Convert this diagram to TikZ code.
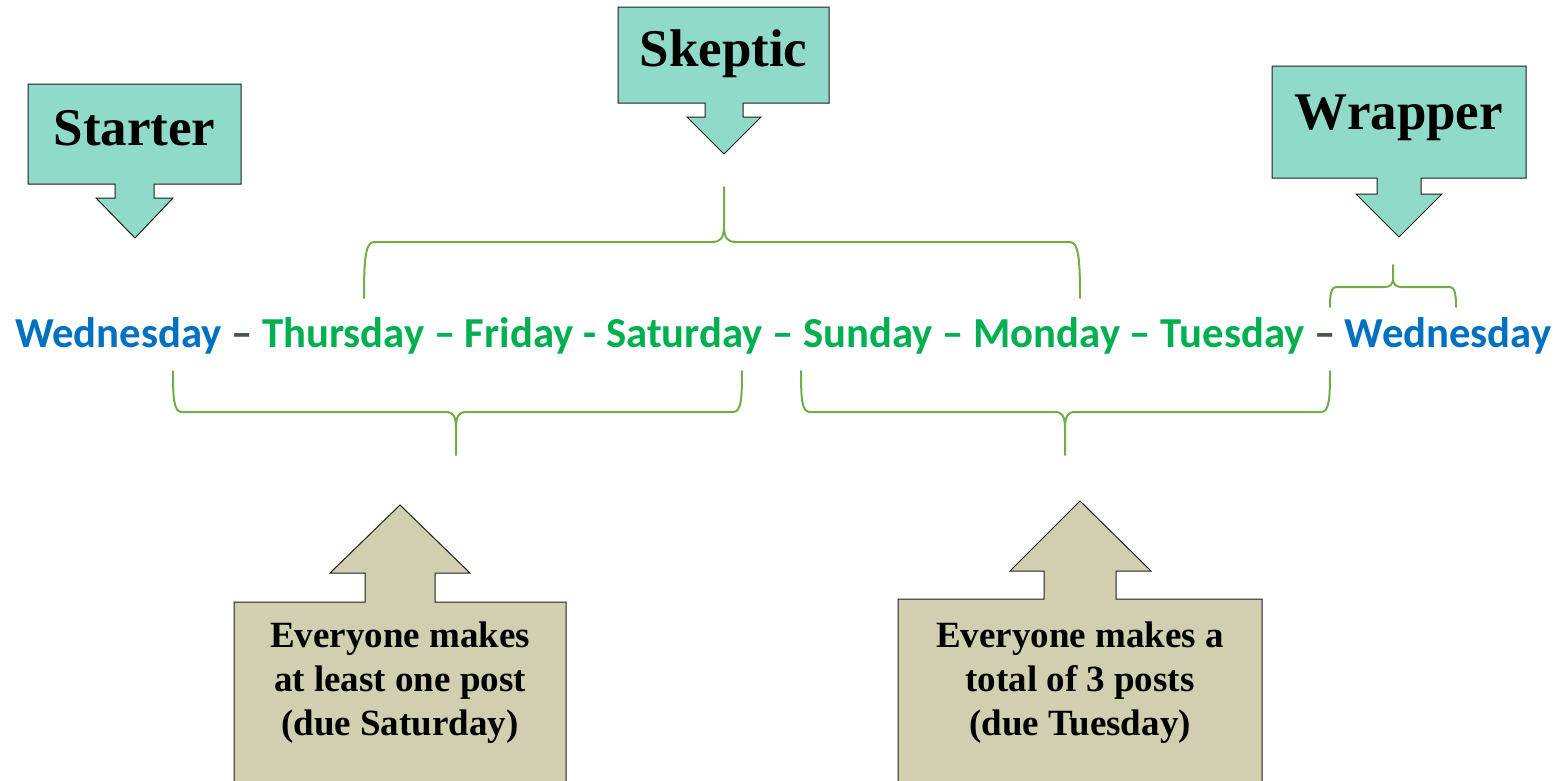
\documentclass[tikz,border=0pt]{standalone}
\usepackage{fontspec}
\setmainfont{Liberation Serif}
\newfontfamily\calib{Carlito}
\definecolor{teal}{RGB}{143,218,200}
\definecolor{khaki}{RGB}{209,207,176}
\definecolor{dayblue}{RGB}{0,112,192}
\definecolor{daygreen}{RGB}{0,176,80}
\definecolor{dashgray}{RGB}{70,88,74}
\definecolor{bracegreen}{RGB}{112,173,71}
\definecolor{edgegray}{RGB}{30,30,30}
\tikzset{
  downcall/.style={fill=teal,draw=edgegray,line width=1pt,line join=miter},
  upcall/.style={fill=khaki,draw=edgegray,line width=1pt,line join=miter},
  bigtitle/.style={font=\fontsize{53}{60}\selectfont\bfseries,anchor=base,inner sep=0pt},
  notetext/.style={font=\fontsize{37}{44}\selectfont\bfseries,align=center,anchor=base,inner sep=0pt},
  brace/.style={draw=bracegreen,line width=2pt,line cap=round,line join=round},
  dayline/.style={font=\calib\fontsize{42.7}{50}\selectfont\bfseries,anchor=base west,inner sep=0pt}
}
\begin{document}
\begin{tikzpicture}[x=1pt,y=-1pt]
\useasboundingbox (0,0) rectangle (1559,780);
% top callouts
\draw[downcall] (28,84) -- (241,84) -- (241,184) -- (154,184) -- (154,198) -- (173,198) -- (135,238) -- (96,198) -- (115,198) -- (115,184) -- (28,184) -- cycle;
\node[bigtitle] (starter) at (134.5,145) {Starter};
\draw[downcall] (618,7) -- (829,7) -- (829,103) -- (743,103) -- (743,117) -- (761,117) -- (724,154) -- (687,117) -- (705,117) -- (705,103) -- (618,103) -- cycle;
\node[bigtitle] (skeptic) at (723.5,66) {Skeptic};
\draw[downcall] (1272,66) -- (1526,66) -- (1526,178) -- (1421,178) -- (1421,194) -- (1442,194) -- (1399,237) -- (1356,194) -- (1377,194) -- (1377,178) -- (1272,178) -- cycle;
\node[bigtitle] (wrapper) at (1399,129) {Wrapper};
% bottom callouts
\draw[upcall] (234,790) -- (234,602) -- (365,602) -- (365,573) -- (330,573) -- (400,505) -- (470,573) -- (435,573) -- (435,602) -- (566,602) -- (566,790);
\node[notetext] (note1) at (400,735) {Everyone makes\\at least one post\\(due Saturday)};
\draw[upcall] (898,790) -- (898,599) -- (1044,599) -- (1044,571) -- (1010,571) -- (1080,501) -- (1151,571) -- (1116,571) -- (1116,599) -- (1262,599) -- (1262,790);
\node[notetext] (note2) at (1080,735) {Everyone makes a\\total of 3 posts\\(due Tuesday)};
% timeline
\node[dayline] (days) at (15,347) {\textcolor{dayblue}{Wednesday} \textcolor{dashgray}{–} \textcolor{daygreen}{Thursday – Friday - Saturday – Sunday – Monday – Tuesday} \textcolor{dashgray}{–} \textcolor{dayblue}{Wednesday}};
% braces
\draw[brace] (364,298) .. controls (364,262) and (365,242) .. (374,242) -- (713,242) .. controls (720,242) and (724,238) .. (724,226) -- (724,187);
\draw[brace] (724,226) .. controls (724,238) and (728,242) .. (735,242) -- (1070,242) .. controls (1079,242) and (1080,262) .. (1080,298);
\draw[brace] (1330,307) .. controls (1330,295) and (1331,287) .. (1336,287) -- (1385,287) .. controls (1390,287) and (1393,284) .. (1393,279) -- (1393,265);
\draw[brace] (1393,279) .. controls (1393,284) and (1396,287) .. (1401,287) -- (1450,287) .. controls (1455,287) and (1456,295) .. (1456,307);
\draw[brace] (173,371) .. controls (173,400) and (174,412) .. (182,412) -- (446,412) .. controls (453,412) and (456,416) .. (456,428) -- (456,455);
\draw[brace] (456,428) .. controls (456,416) and (459,412) .. (466,412) -- (733,412) .. controls (741,412) and (742,400) .. (742,371);
\draw[brace] (801,371) .. controls (801,400) and (802,412) .. (810,412) -- (1055,412) .. controls (1062,412) and (1065,416) .. (1065,428) -- (1065,455);
\draw[brace] (1065,428) .. controls (1065,416) and (1068,412) .. (1075,412) -- (1321,412) .. controls (1329,412) and (1330,400) .. (1330,371);
\end{tikzpicture}
\end{document}
